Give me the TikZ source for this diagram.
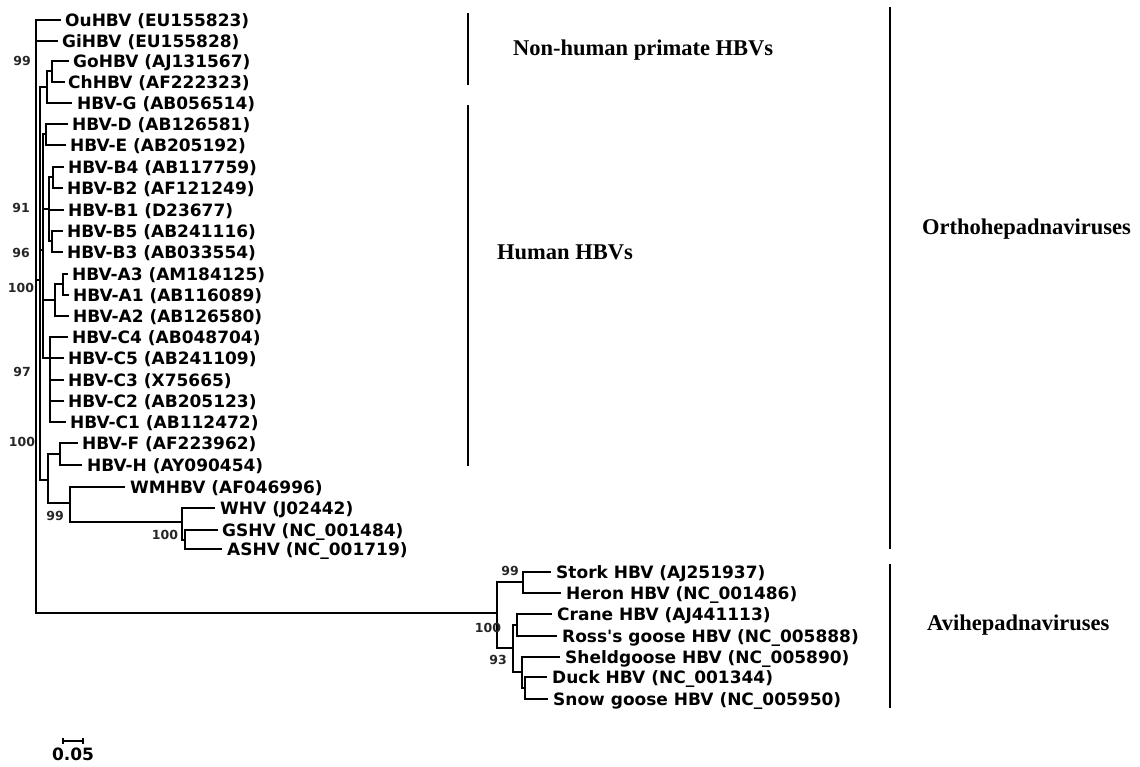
\documentclass[tikz,border=0pt]{standalone}
\usepackage{fontspec}
\newfontfamily\leaffont{DejaVu Sans}
\newfontfamily\cladefont{Liberation Serif}
\tikzset{
  br/.style={line width=2.7pt, line cap=rect, line join=miter},
  cladebar/.style={line width=2.6pt},
  leaf/.style={font=\leaffont\bfseries\fontsize{17}{20}\selectfont, inner sep=0pt, anchor=base west},
  boot/.style={font=\leaffont\bfseries\fontsize{12.5}{14}\selectfont, inner sep=0pt, text=black!85},
  clade/.style={font=\cladefont\bfseries\fontsize{22.5}{26}\selectfont, inner sep=0pt, anchor=west},
}
% name, tip x, y, text x, text
\newcommand\mkleaf[5]{%
  \coordinate (t#1) at (#2,-#3);
  \node[leaf] (l#1) at (#4,-#3-6) {#5};}
\begin{document}
\begin{tikzpicture}[x=1pt,y=1pt]
\useasboundingbox (0,0) rectangle (1140,-766);
% ---------------- leaves
\mkleaf{Ou}{60}{20}{65}{OuHBV (EU155823)}
\mkleaf{Gi}{57}{41}{62}{GiHBV (EU155828)}
\mkleaf{Go}{68}{61}{73}{GoHBV (AJ131567)}
\mkleaf{Ch}{64}{82}{68}{ChHBV (AF222323)}
\mkleaf{G}{71}{103}{77}{HBV-G (AB056514)}
\mkleaf{D}{67}{124}{72}{HBV-D (AB126581)}
\mkleaf{E}{65}{145}{70}{HBV-E (AB205192)}
\mkleaf{Bf}{63}{167}{68}{HBV-B4 (AB117759)}
\mkleaf{Bt}{62}{188}{67}{HBV-B2 (AF121249)}
\mkleaf{Bo}{63}{210}{68}{HBV-B1 (D23677)}
\mkleaf{Bv}{62}{231}{67}{HBV-B5 (AB241116)}
\mkleaf{Bh}{62}{252}{67}{HBV-B3 (AB033554)}
\mkleaf{Ah}{67}{274}{72}{HBV-A3 (AM184125)}
\mkleaf{Ao}{68}{295}{73}{HBV-A1 (AB116089)}
\mkleaf{At}{68}{316}{73}{HBV-A2 (AB126580)}
\mkleaf{Cf}{67}{337}{72}{HBV-C4 (AB048704)}
\mkleaf{Cv}{63}{358}{68}{HBV-C5 (AB241109)}
\mkleaf{Ch3}{63}{380}{68}{HBV-C3 (X75665)}
\mkleaf{Ct}{63}{401}{68}{HBV-C2 (AB205123)}
\mkleaf{Co}{65}{422}{70}{HBV-C1 (AB112472)}
\mkleaf{F}{77}{443}{82}{HBV-F (AF223962)}
\mkleaf{H}{81}{465}{87}{HBV-H (AY090454)}
\mkleaf{WM}{124}{487}{130}{WMHBV (AF046996)}
\mkleaf{WH}{214}{508}{220}{WHV (J02442)}
\mkleaf{GS}{217}{530}{222}{GSHV (NC\_001484)}
\mkleaf{AS}{221}{549}{227}{ASHV (NC\_001719)}
\mkleaf{St}{550}{572}{556}{Stork HBV (AJ251937)}
\mkleaf{He}{560}{593}{566}{Heron HBV (NC\_001486)}
\mkleaf{Cr}{551}{614}{557}{Crane HBV (AJ441113)}
\mkleaf{Ro}{556}{636}{562}{Ross's goose HBV (NC\_005888)}
\mkleaf{Sh}{559}{657}{565}{Sheldgoose HBV (NC\_005890)}
\mkleaf{Du}{546}{677}{552}{Duck HBV (NC\_001344)}
\mkleaf{Sn}{547}{699}{553}{Snow goose HBV (NC\_005950)}
% ---------------- internal nodes
\coordinate (root) at (36,-20);
\coordinate (core) at (40,-280);
\coordinate (p2) at (47,-87);
\coordinate (goch) at (52,-71);
\coordinate (hum) at (43,-250);
\coordinate (de) at (46,-134);
\coordinate (nb) at (49,-209);
\coordinate (b42) at (53,-177);
\coordinate (b53) at (52,-241);
\coordinate (na) at (55,-300);
\coordinate (a31) at (63,-284);
\coordinate (nc) at (50,-358);
\coordinate (fhw) at (48,-480);
\coordinate (fh) at (60,-454);
\coordinate (wm) at (70,-503);
\coordinate (rod) at (182,-522);
\coordinate (ga) at (185,-540);
\coordinate (av) at (497,-613);
\coordinate (sh) at (523,-582);
\coordinate (n93) at (513,-648);
\coordinate (cr) at (517,-625);
\coordinate (sds) at (522,-672);
\coordinate (ds) at (525,-688);
% ---------------- branches
\draw[br] (root) |- (tOu);
\draw[br] (root) |- (tGi);
\draw[br] (root) |- (core);
\draw[br] (root) |- (av);
\draw[br] (core) |- (p2);
\draw[br] (core) |- (hum);
\draw[br] (core) |- (fhw);
\draw[br] (p2) |- (goch);
\draw[br] (p2) |- (tG);
\draw[br] (goch) |- (tGo);
\draw[br] (goch) |- (tCh);
\draw[br] (hum) |- (de);
\draw[br] (hum) |- (nb);
\draw[br] (hum) |- (na);
\draw[br] (hum) |- (nc);
\draw[br] (de) |- (tD);
\draw[br] (de) |- (tE);
\draw[br] (nb) |- (b42);
\draw[br] (nb) |- (tBo);
\draw[br] (nb) |- (b53);
\draw[br] (b42) |- (tBf);
\draw[br] (b42) |- (tBt);
\draw[br] (b53) |- (tBv);
\draw[br] (b53) |- (tBh);
\draw[br] (na) |- (a31);
\draw[br] (na) |- (tAt);
\draw[br] (a31) |- (tAh);
\draw[br] (a31) |- (tAo);
\draw[br] (nc) |- (tCf);
\draw[br] (nc) |- (tCv);
\draw[br] (nc) |- (tCh3);
\draw[br] (nc) |- (tCt);
\draw[br] (nc) |- (tCo);
\draw[br] (fhw) |- (fh);
\draw[br] (fhw) |- (wm);
\draw[br] (fh) |- (tF);
\draw[br] (fh) |- (tH);
\draw[br] (wm) |- (tWM);
\draw[br] (wm) |- (rod);
\draw[br] (rod) |- (tWH);
\draw[br] (rod) |- (ga);
\draw[br] (ga) |- (tGS);
\draw[br] (ga) |- (tAS);
\draw[br] (av) |- (sh);
\draw[br] (av) |- (n93);
\draw[br] (sh) |- (tSt);
\draw[br] (sh) |- (tHe);
\draw[br] (n93) |- (cr);
\draw[br] (n93) |- (sds);
\draw[br] (cr) |- (tCr);
\draw[br] (cr) |- (tRo);
\draw[br] (sds) |- (tSh);
\draw[br] (sds) |- (ds);
\draw[br] (ds) |- (tDu);
\draw[br] (ds) |- (tSn);
% ---------------- bootstrap values
\node[boot] (bA) at (22,-61) {99};
\node[boot] (bB) at (21,-208) {91};
\node[boot] (bC) at (21,-253) {96};
\node[boot] (bD) at (21,-288) {100};
\node[boot] (bE) at (22,-372) {97};
\node[boot] (bF) at (22,-442) {100};
\node[boot] (bG) at (55,-516) {99};
\node[boot] (bH) at (165,-535) {100};
\node[boot] (bI) at (510,-571) {99};
\node[boot] (bJ) at (488,-628) {100};
\node[boot] (bK) at (498,-660) {93};
% ---------------- clade bars and labels
\coordinate (nhT) at (468,-13); \coordinate (nhB) at (468,-85);
\coordinate (huT) at (468,-105); \coordinate (huB) at (468,-466);
\coordinate (orT) at (890,-7); \coordinate (orB) at (890,-549);
\coordinate (avT) at (890,-564); \coordinate (avB) at (890,-708);
\draw[cladebar] (nhT) -- (nhB);
\draw[cladebar] (huT) -- (huB);
\draw[cladebar] (orT) -- (orB);
\draw[cladebar] (avT) -- (avB);
\node[clade] (cNH) at (513,-50) {Non-human primate HBVs};
\node[clade] (cHU) at (497,-252) {Human HBVs};
\node[clade] (cOR) at (922,-229) {Orthohepadnaviruses};
\node[clade] (cAV) at (927,-625) {Avihepadnaviruses};
% ---------------- scale bar
\coordinate (sL) at (63,-741); \coordinate (sR) at (83,-741);
\draw[line width=1.4pt] (sL) -- (sR);
\draw[line width=1.4pt] ([yshift=3pt]sL) -- ([yshift=-3pt]sL);
\draw[line width=1.4pt] ([yshift=3pt]sR) -- ([yshift=-3pt]sR);
\node[leaf, anchor=north] (sT) at (73,-748) {0.05};
\end{tikzpicture}
\end{document}
